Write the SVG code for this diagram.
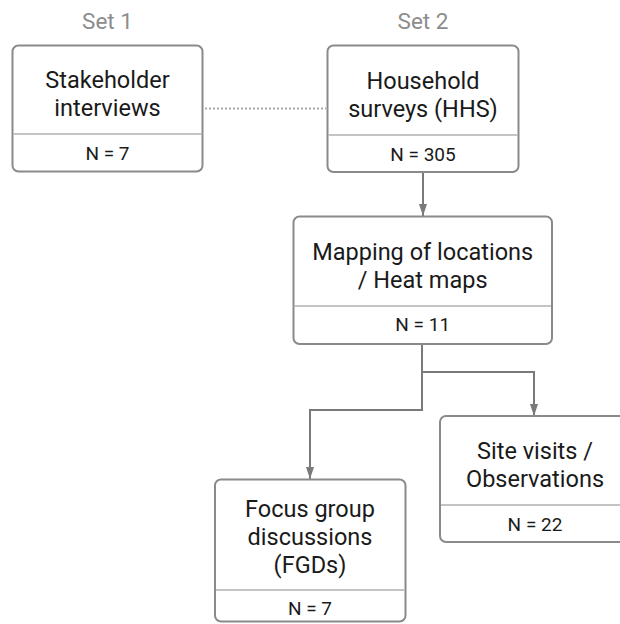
<svg xmlns="http://www.w3.org/2000/svg" width="620" height="624" viewBox="0 0 620 624">
<defs>
<style>
.box{fill:#fff;stroke:#8a8a8a;stroke-width:2}
.div{stroke:#b0b0b0;stroke-width:1.5}
.t{font-family:Roboto,"Open Sans","DejaVu Sans",sans-serif;font-size:23.5px;fill:#1a1a1a;text-anchor:middle}
.n{font-family:Roboto,"Open Sans","DejaVu Sans",sans-serif;font-size:19px;fill:#1a1a1a;text-anchor:middle}
.set{font-family:Roboto,"Open Sans","DejaVu Sans",sans-serif;font-size:22.5px;fill:#8c8c8c;text-anchor:middle}
.c{fill:none;stroke:#7a7a7a;stroke-width:2}
.dot{fill:none;stroke:#aaaaaa;stroke-width:2;stroke-dasharray:2 2}
</style>
<marker id="ah" viewBox="0 0 12 8" refX="12" refY="4" markerWidth="12" markerHeight="8" markerUnits="userSpaceOnUse" orient="auto">
<path d="M0,0 L12,4 L0,8 Z" fill="#7a7a7a"/>
</marker>
</defs>
<rect width="620" height="624" fill="#fff"/>
<g id="labels">
<text class="set" x="107.5" y="29">Set 1</text>
<text class="set" x="423" y="29">Set 2</text>
</g>
<g id="connectors">
<line class="dot" x1="205" y1="108.5" x2="326" y2="108.5"/>
<path class="c" d="M423 172 V216" marker-end="url(#ah)"/>
<path class="c" d="M422 344 V410 H310 V479" marker-end="url(#ah)"/>
<path class="c" d="M422 372 H534 V416" marker-end="url(#ah)"/>
</g>
<g id="stakeholder">
<rect class="box" x="12.5" y="45.5" width="190" height="126" rx="6"/>
<line class="div" x1="13.5" y1="134" x2="201.5" y2="134"/>
<text class="t" x="107.5" y="87.5">Stakeholder</text>
<text class="t" x="107.5" y="115.5">interviews</text>
<text class="n" x="107.5" y="159.5">N = 7</text>
</g>
<g id="household">
<rect class="box" x="327.5" y="45.5" width="191" height="126.5" rx="6"/>
<line class="div" x1="328.5" y1="135" x2="517.5" y2="135"/>
<text class="t" x="423" y="89">Household</text>
<text class="t" x="423" y="117">surveys (HHS)</text>
<text class="n" x="423" y="160.5">N = 305</text>
</g>
<g id="mapping">
<rect class="box" x="293.5" y="216.5" width="258.5" height="127.5" rx="6"/>
<line class="div" x1="294.5" y1="306" x2="551" y2="306"/>
<text class="t" x="422.7" y="260">Mapping of locations</text>
<text class="t" x="422.7" y="288">/ Heat maps</text>
<text class="n" x="422.7" y="331">N = 11</text>
</g>
<g id="site">
<rect class="box" x="440" y="416" width="190" height="126" rx="6"/>
<line class="div" x1="441" y1="505" x2="629" y2="505"/>
<text class="t" x="535" y="459">Site visits /</text>
<text class="t" x="535" y="487">Observations</text>
<text class="n" x="535" y="531">N = 22</text>
</g>
<g id="fgd">
<rect class="box" x="215" y="479.5" width="190.5" height="142" rx="6"/>
<line class="div" x1="216" y1="590" x2="404.5" y2="590"/>
<text class="t" x="310" y="517">Focus group</text>
<text class="t" x="310" y="545">discussions</text>
<text class="t" x="310" y="573">(FGDs)</text>
<text class="n" x="310" y="615">N = 7</text>
</g>
</svg>
